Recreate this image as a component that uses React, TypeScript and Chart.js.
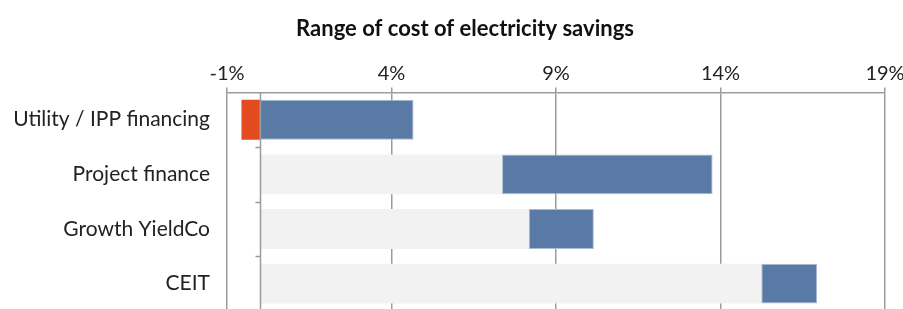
import React, { useEffect, useRef } from "react";
import { Chart, registerables } from "chart.js";

Chart.register(...registerables);

const categories = ["Utility / IPP financing", "Project finance", "Growth YieldCo", "CEIT"];
const rangeLow = [0, 7.36, 8.17, 15.24];
const rangeHigh = [4.67, 13.76, 10.15, 16.94];
const negativeLow = [-0.56, null, null, null];
const xTicks = [-1, 4, 9, 14, 19];
const titleText = "Range of cost of electricity savings";

const FONT = "Lato, 'Open Sans', sans-serif";
const GRID = "#9b9b9b";

const zeroAxisPlugin = {
  id: "zeroAxis",
  afterLayout(chart: any) {
    if (chart.titleBlock) chart.titleBlock.left = 27;
  },
  afterDatasetsDraw(chart: any) {
    const { ctx, chartArea, scales } = chart;
    const x0 = Math.round(scales.x.getPixelForValue(0)) + 0.5;
    ctx.save();
    ctx.strokeStyle = GRID;
    ctx.lineWidth = 1.5;
    ctx.beginPath();
    ctx.moveTo(x0, chartArea.top);
    ctx.lineTo(x0, chartArea.bottom);
    const n = categories.length;
    for (let i = 1; i < n; i++) {
      const y = Math.round((scales.y.getPixelForValue(i - 1) + scales.y.getPixelForValue(i)) / 2) + 0.5;
      ctx.moveTo(x0 - 5, y);
      ctx.lineTo(x0, y);
    }
    ctx.stroke();
    ctx.restore();
  },
};

export default function App() {
  const ref = useRef<HTMLCanvasElement | null>(null);
  useEffect(() => {
    if (!ref.current) return;
    const chart = new Chart(ref.current, {
      type: "bar",
      data: {
        labels: categories,
        datasets: [
          {
            label: "base",
            data: rangeLow.map((v) => [0, v]) as any,
            backgroundColor: "#f2f2f2",
            borderWidth: 0,
            grouped: false,
            order: 3,
          } as any,
          {
            label: "range",
            data: rangeLow.map((v, i) => [v, rangeHigh[i]]) as any,
            backgroundColor: "#587aa4",
            borderColor: "#a9bcd5",
            borderWidth: 1,
            borderSkipped: false,
            grouped: false,
            order: 1,
          } as any,
          {
            label: "negative",
            data: negativeLow.map((v) => (v === null ? null : [v, 0])) as any,
            backgroundColor: "#e24a1f",
            borderWidth: 0,
            grouped: false,
            order: 2,
          } as any,
        ],
      },
      options: {
        indexAxis: "y",
        animation: false,
        responsive: true,
        maintainAspectRatio: false,
        datasets: { bar: { barPercentage: 0.73, categoryPercentage: 1 } },
        layout: { padding: { left: 12, right: 0, top: 0, bottom: 1 } },
        plugins: {
          legend: { display: false },
          tooltip: { enabled: false },
          title: {
            display: true,
            text: titleText,
            color: "#111",
            font: { family: FONT, size: 22, weight: "bold" },
            padding: { top: 16, bottom: 17 },
          },
        },
        scales: {
          x: {
            position: "top",
            min: -1,
            max: 19,
            afterBuildTicks: (scale: any) => {
              scale.ticks = xTicks.map((v) => ({ value: v }));
            },
            afterFit: (scale: any) => {
              scale.paddingRight = 18;
            },
            ticks: {
              callback: (v: any) => `${v}%`,
              color: "#222",
              font: { family: FONT, size: 20 },
              padding: 2,
            },
            grid: { color: GRID, lineWidth: 1.5, tickLength: 5 },
            border: { color: GRID, width: 1.5 },
          },
          y: {
            afterFit: (scale: any) => {
              scale.width = 215;
              scale.paddingTop = 0;
              scale.paddingBottom = 0;
            },
            ticks: {
              color: "#222",
              font: { family: FONT, size: 21 },
              padding: 0,
            },
            grid: { display: false, drawTicks: true, tickLength: 17 },
            border: { display: false },
          },
        },
      } as any,
      plugins: [zeroAxisPlugin],
    });
    return () => chart.destroy();
  }, []);
  return (
    <div style={{ position: "fixed", left: 0, top: 0, width: 903, height: 309, overflow: "hidden" }}>
      <div style={{ position: "absolute", left: 0, top: 0, width: 903, height: 312 }}>
        <canvas ref={ref} />
      </div>
    </div>
  );
}
